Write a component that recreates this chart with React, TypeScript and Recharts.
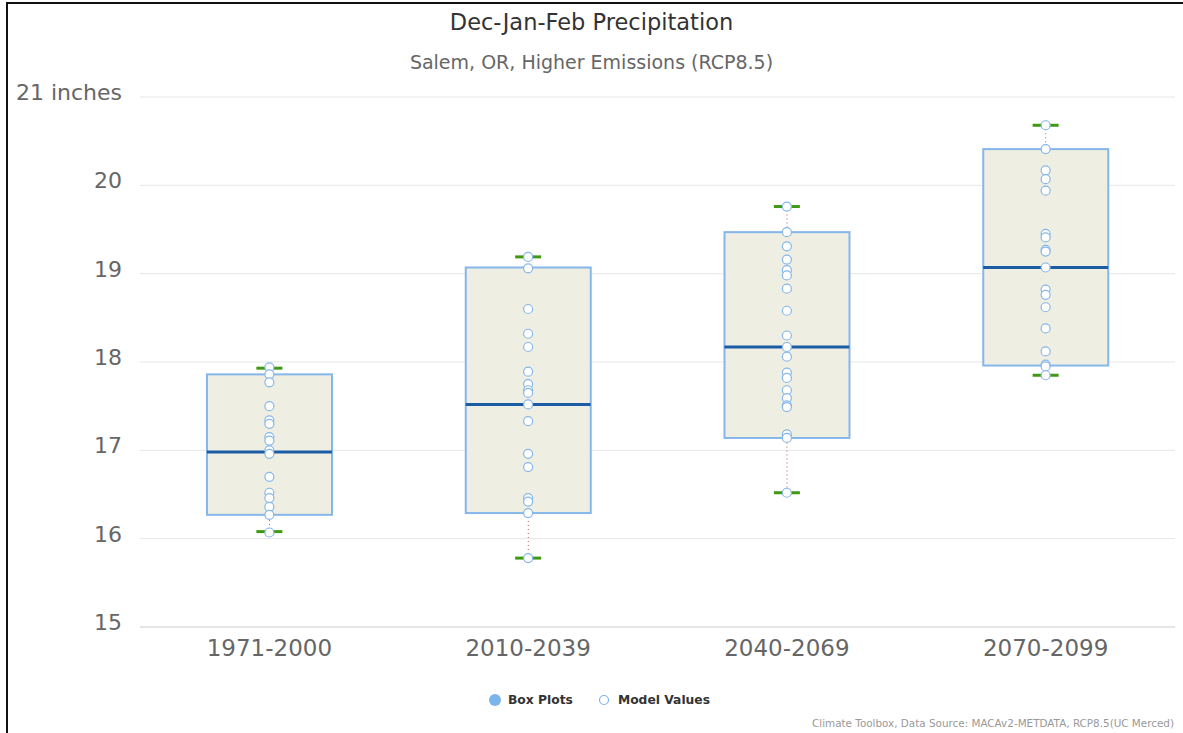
import React from "react";
import {
  ComposedChart,
  Bar,
  Scatter,
  XAxis,
  YAxis,
  CartesianGrid,
} from "recharts";

const categories = ["1971-2000", "2010-2039", "2040-2069", "2070-2099"];
const lows = [16.08, 15.78, 16.52, 17.85];
const q1s = [16.27, 16.29, 17.14, 17.96];
const medians = [16.98, 17.52, 18.17, 19.07];
const q3s = [17.86, 19.07, 19.47, 20.41];
const highs = [17.93, 19.19, 19.76, 20.68];

const models1971 = [17.94, 17.86, 17.77, 17.5, 17.34, 17.3, 17.15, 17.11, 17.0, 16.96, 16.7, 16.52, 16.46, 16.36, 16.27, 16.07];
const models2010 = [19.19, 19.06, 18.6, 18.32, 18.17, 17.89, 17.75, 17.68, 17.65, 17.52, 17.33, 16.96, 16.81, 16.46, 16.42, 16.29, 15.78];
const models2040 = [19.76, 19.47, 19.31, 19.16, 19.04, 18.98, 18.83, 18.58, 18.3, 18.17, 18.06, 17.88, 17.82, 17.68, 17.59, 17.51, 17.49, 17.18, 17.14, 16.52];
const models2070 = [20.68, 20.41, 20.17, 20.07, 19.94, 19.45, 19.41, 19.27, 19.25, 19.07, 18.82, 18.76, 18.62, 18.38, 18.12, 17.97, 17.95, 17.85];
const modelValues = [models1971, models2010, models2040, models2070];

const yTicks = [15, 16, 17, 18, 19, 20, 21];

const MAX_MODELS = Math.max(...modelValues.map((m) => m.length));
const modelKeys = Array.from({ length: MAX_MODELS }, (_, i) => `m${i}`);

const data = categories.map((cat, i) => {
  const row: any = {
    cat,
    whisker: [lows[i], highs[i]],
    box: [q1s[i], q3s[i]],
    median: medians[i],
    low: lows[i],
    high: highs[i],
  };
  modelValues[i].forEach((v, j) => {
    row[`m${j}`] = v;
  });
  return row;
});

const BOX_WIDTH = 125;
const FONT = "'DejaVu Sans', Verdana, sans-serif";

const WhiskerShape = (p: any) => {
  const cx = p.x + p.width / 2;
  return (
    <line
      x1={cx}
      x2={cx}
      y1={p.y}
      y2={p.y + p.height}
      stroke="#c0504d"
      strokeWidth={1}
      strokeDasharray="1,3"
    />
  );
};

const BoxShape = (p: any) => (
  <rect
    x={p.x}
    y={p.y}
    width={p.width}
    height={p.height}
    fill="#efeee2"
    stroke="#86b7ea"
    strokeWidth={2}
  />
);

const MedianShape = (p: any) => {
  if (p.cy == null || isNaN(p.cy)) return <g />;
  return (
    <line
      x1={p.cx - BOX_WIDTH / 2}
      x2={p.cx + BOX_WIDTH / 2}
      y1={p.cy}
      y2={p.cy}
      stroke="#1a5ca6"
      strokeWidth={3}
    />
  );
};

const CapShape = (p: any) => {
  if (p.cy == null || isNaN(p.cy)) return <g />;
  return (
    <line
      x1={p.cx - 13}
      x2={p.cx + 13}
      y1={p.cy}
      y2={p.cy}
      stroke="#3f9a12"
      strokeWidth={3}
    />
  );
};

const PointShape = (p: any) => {
  if (p.cy == null || isNaN(p.cy) || p.cx == null || isNaN(p.cx)) return <g />;
  return <circle cx={p.cx} cy={p.cy} r={4.5} fill="#ffffff" stroke="#86b7ea" strokeWidth={1.2} />;
};

const YTick = (p: any) => {
  const v = p.payload.value;
  return (
    <text
      x={p.x}
      y={p.y}
      dy={-3}
      textAnchor="end"
      dominantBaseline="middle"
      fill="#666666"
      fontSize={22}
      fontFamily={FONT}
    >
      {v === 21 ? "21 inches" : String(v)}
    </text>
  );
};

const XTick = (p: any) => (
  <text
    x={p.x}
    y={p.y}
    dy={14}
    textAnchor="middle"
    dominantBaseline="middle"
    fill="#666666"
    fontSize={23}
    fontFamily={FONT}
  >
    {p.payload.value}
  </text>
);

export default function App() {
  return (
    <div
      style={{
        position: "absolute",
        left: 0,
        top: 0,
        width: 1183,
        height: 733,
        background: "#ffffff",
        overflow: "hidden",
        fontFamily: FONT,
      }}
    >
      <div
        style={{
          position: "absolute",
          left: 6,
          top: 2,
          width: 1183,
          height: 740,
          borderLeft: "2px solid #111",
          borderTop: "2px solid #111",
        }}
      />
      <div
        style={{
          position: "absolute",
          left: 0,
          top: 9,
          width: 1183,
          textAlign: "center",
          fontSize: 22.5,
          lineHeight: "26px",
          color: "#333333",
        }}
      >
        Dec-Jan-Feb Precipitation
      </div>
      <div
        style={{
          position: "absolute",
          left: 0,
          top: 51,
          width: 1183,
          textAlign: "center",
          fontSize: 19,
          lineHeight: "22px",
          color: "#666666",
        }}
      >
        Salem, OR, Higher Emissions (RCP8.5)
      </div>
      <div style={{ position: "absolute", left: 0, top: 0 }}>
        <ComposedChart
          width={1183}
          height={733}
          data={data}
          margin={{ top: 97, right: 8, bottom: 66, left: 0 }}
          barGap={-BOX_WIDTH}
        >
          <CartesianGrid vertical={false} stroke="#e6e6e6" />
          <XAxis
            dataKey="cat"
            height={40}
            tickLine={false}
            axisLine={{ stroke: "#d8d8d8" }}
            tick={<XTick />}
          />
          <YAxis
            type="number"
            domain={[15, 21]}
            ticks={yTicks}
            width={140}
            tickLine={false}
            axisLine={false}
            tickSize={0}
            tickMargin={18}
            tick={<YTick />}
          />
          <Bar dataKey="whisker" barSize={BOX_WIDTH} shape={<WhiskerShape />} isAnimationActive={false} />
          <Bar dataKey="box" barSize={BOX_WIDTH} shape={<BoxShape />} isAnimationActive={false} />
          <Scatter dataKey="median" shape={<MedianShape />} isAnimationActive={false} />
          <Scatter dataKey="low" shape={<CapShape />} isAnimationActive={false} />
          <Scatter dataKey="high" shape={<CapShape />} isAnimationActive={false} />
          {modelKeys.map((k) => (
            <Scatter key={k} dataKey={k} shape={<PointShape />} isAnimationActive={false} />
          ))}
        </ComposedChart>
      </div>
      <div
        style={{
          position: "absolute",
          top: 690,
          left: 488,
          display: "flex",
          alignItems: "center",
          fontSize: 12.3,
          fontWeight: "bold",
          color: "#333333",
          lineHeight: "20px",
        }}
      >
        <svg width={14} height={14} style={{ marginRight: 6 }}>
          <circle cx={7} cy={7} r={6} fill="#7cb5ec" />
        </svg>
        <span>Box Plots</span>
        <svg width={14} height={14} style={{ marginLeft: 24, marginRight: 7 }}>
          <circle cx={7} cy={7} r={4.5} fill="#ffffff" stroke="#7cb5ec" strokeWidth={1.2} />
        </svg>
        <span>Model Values</span>
      </div>
      <div
        style={{
          position: "absolute",
          right: 9,
          top: 717,
          fontSize: 10.4,
          color: "#999999",
          whiteSpace: "nowrap",
        }}
      >
        Climate Toolbox, Data Source: MACAv2-METDATA, RCP8.5(UC Merced)
      </div>
    </div>
  );
}
